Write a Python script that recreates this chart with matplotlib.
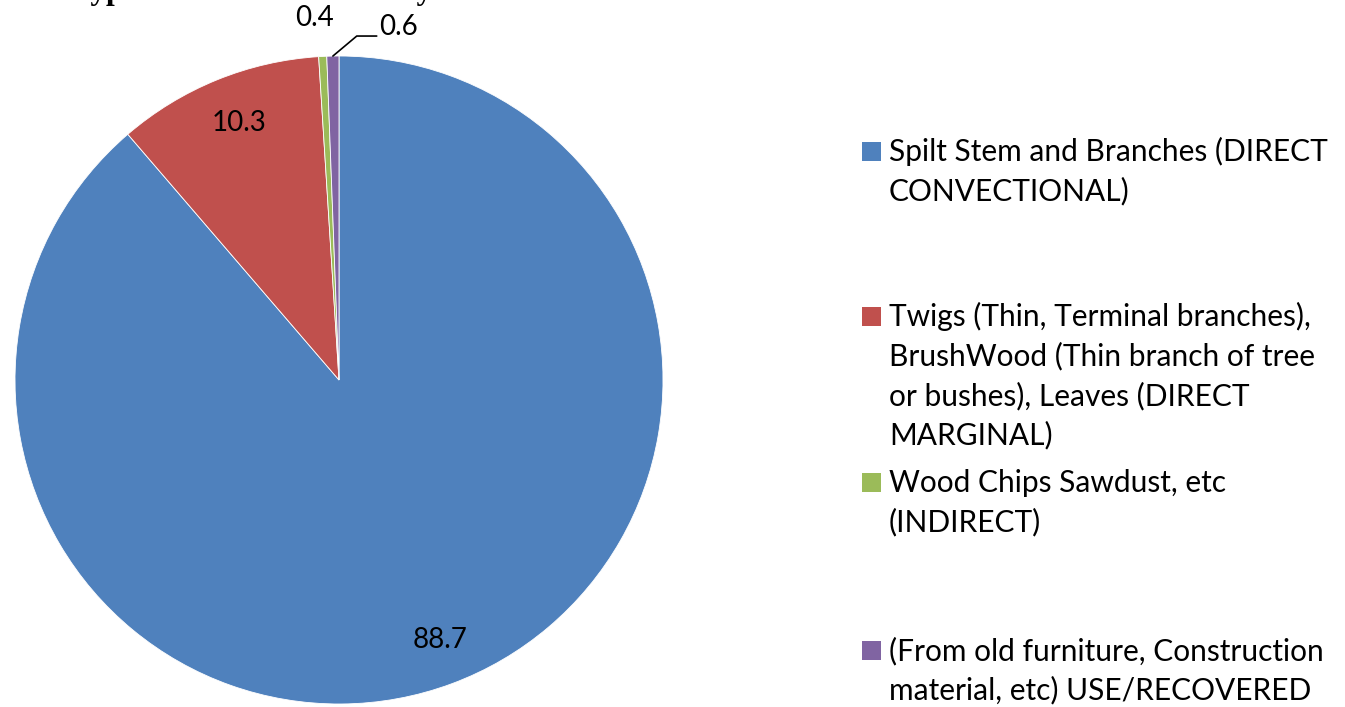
import numpy as np
import matplotlib.pyplot as plt
from matplotlib.patches import Rectangle

# DATA

categories = ['Spilt Stem and Branches (DIRECT\nCONVECTIONAL)',
              'Twigs (Thin, Terminal branches),\nBrushWood (Thin branch of tree\nor bushes), Leaves (DIRECT\nMARGINAL)',
              'Wood Chips Sawdust, etc\n(INDIRECT)',
              '(From old furniture, Construction\nmaterial, etc) USE/RECOVERED']
values = [88.7, 10.3, 0.4, 0.6]
value_labels = ['88.7', '10.3', '0.4', '0.6']
colors = ['#4F81BD', '#C0504D', '#9BBB59', '#8064A2']

plt.rcParams['font.family'] = ['Lato', 'DejaVu Sans']

W, H = 1345, 707
fig = plt.figure(figsize=(W / 100, H / 100), dpi=100)

# PIE AXES (center ~ (339, 380) px, radius ~ 324 px)

cx, cy, r = 339, 380, 324
ax = fig.add_axes([(cx - r) / W, (H - cy - r) / H, 2 * r / W, 2 * r / H])
wedges, _ = ax.pie(values, colors=colors, startangle=90, counterclock=False,
                   wedgeprops={'edgecolor': 'white', 'linewidth': 0.6})
ax.set_xlim(-1, 1)
ax.set_ylim(-1, 1)
ax.set_aspect('equal')

# VALUE LABELS

for i, w in enumerate(wedges):
    mid = np.deg2rad((w.theta1 + w.theta2) / 2)
    x, y = np.cos(mid), np.sin(mid)
    if values[i] > 5:
        ax.text(0.855 * x + 0.015, 0.855 * y, value_labels[i], ha='center', va='center',
                fontsize=20, color='black')
    elif i == 2:
        ax.text(1.12 * x - 0.02, 1.12 * y, value_labels[i], ha='center', va='center',
                fontsize=20, color='black', clip_on=False)
    else:
        # leader line: pie edge -> up-right -> short horizontal -> label
        ax.annotate(value_labels[i], xy=(x, y), xytext=(0.125, 1.065),
                    ha='left', va='baseline', fontsize=20, color='black',
                    annotation_clip=False,
                    arrowprops=dict(arrowstyle='-', color='black', lw=1.2,
                                    shrinkA=0, shrinkB=0, relpos=(0, 0.15),
                                    connectionstyle='angle,angleA=0,angleB=40,rad=0'))

# LEGEND (manual, Excel-like equal slots, one text per line)

first_baselines = [161, 326, 492, 660]
line_step = 39.5
for i, lab in enumerate(categories):
    b = first_baselines[i]
    fig.patches.append(Rectangle((862 / W, (H - b) / H), 19 / W, 19 / H,
                                 transform=fig.transFigure, facecolor=colors[i],
                                 edgecolor='none'))
    for k, line in enumerate(lab.split('\n')):
        fig.text(889 / W, (H - b - k * line_step) / H, line, ha='left', va='baseline',
                 fontsize=21.5, color='black')

# CLIPPED TITLE AT THE TOP

fig.text(72 / W, 1.0 + 1 / H, 'Types of Firewood Used by', ha='left', va='baseline',
         fontsize=22.5, fontweight='bold', family='Liberation Serif')

fig.savefig('out.png', dpi=100)
